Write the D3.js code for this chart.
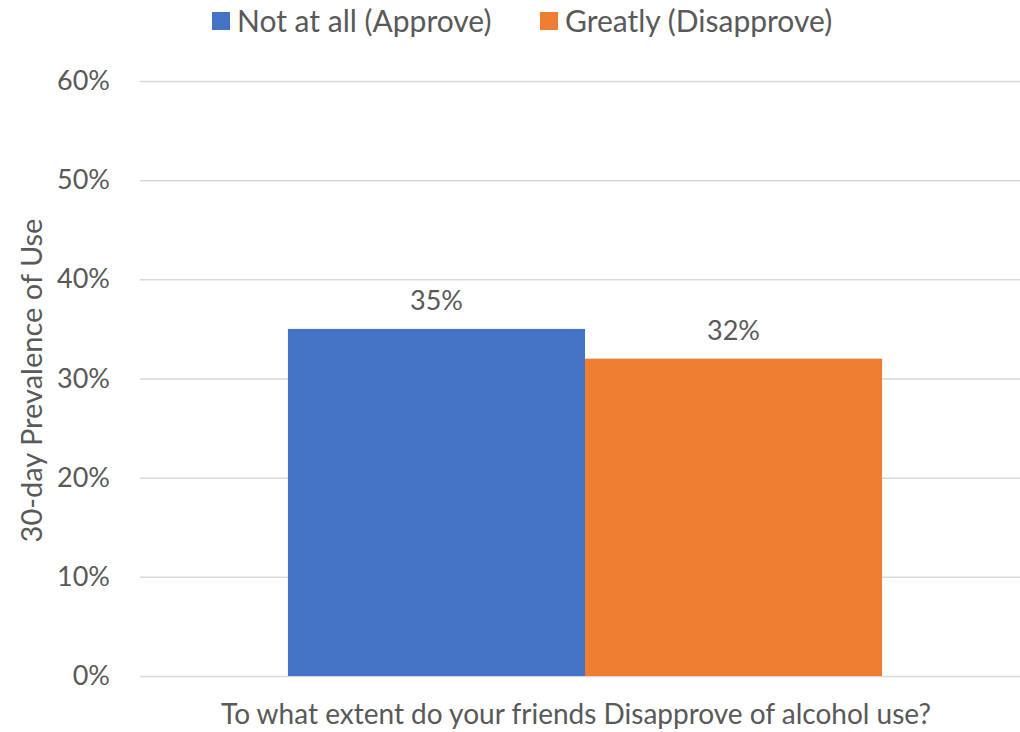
<!DOCTYPE html>
<html>
<head>
<meta charset="utf-8">
<script src="https://cdn.jsdelivr.net/npm/d3@7"></script>
<style>
  body { margin: 0; background: #fff; overflow: hidden; }
  text { font-family: Lato, "Open Sans", sans-serif; fill: #595959; }
</style>
</head>
<body>
<svg id="chart_svg"></svg>
<script>
var categories = ['To what extent do your friends Disapprove of alcohol use?'];
var series = ['Not at all (Approve)', 'Greatly (Disapprove)'];
var values = [0.35, 0.32];
var colors = ['#4472C4', '#ED7D31'];
var yTicks = [0, 0.1, 0.2, 0.3, 0.4, 0.5, 0.6];

var W = 1020, H = 732;
// plot area runs past the right edge, as in the source image
var margin = {top: 81, right: -10, bottom: 56, left: 140};
var width = W - margin.left - margin.right;
var height = H - margin.top - margin.bottom;

var svg = d3.select('#chart_svg')
  .attr('width', W)
  .attr('height', H);

var g = svg.append('g')
  .attr('transform', 'translate(' + margin.left + ',' + margin.top + ')');

var x0 = d3.scaleBand()
  .domain(categories)
  .range([0, width])
  .paddingInner(0)
  .paddingOuter(0.249);

var x1 = d3.scaleBand()
  .domain(series)
  .range([0, x0.bandwidth()]);

var y = d3.scaleLinear()
  .domain([0, 0.6])
  .range([height, 0]);

var yAxis = d3.axisLeft(y)
  .tickValues(yTicks)
  .tickSize(-width)
  .tickPadding(30)
  .tickFormat(d3.format('.0%'));

var yAxisGroup = g.append('g')
  .attr('class', 'axis y')
  .call(yAxis);

yAxisGroup.select('.domain').remove();
yAxisGroup.selectAll('.tick line')
  .attr('stroke', '#D9D9D9')
  .attr('stroke-width', 1.5);
yAxisGroup.selectAll('.tick text')
  .style('font-size', '27px')
  .style('fill', '#595959')
  .style('font-family', 'Lato, "Open Sans", sans-serif');

var groups = g.selectAll('.cat')
  .data(categories)
  .enter()
  .append('g')
  .attr('class', 'cat')
  .attr('transform', function(d) {
    return 'translate(' + x0(d) + ',0)';
  });

groups.selectAll('rect')
  .data(series)
  .enter()
  .append('rect')
  .attr('x', function(d) { return x1(d); })
  .attr('width', x1.bandwidth())
  .attr('y', function(d, i) { return y(values[i]); })
  .attr('height', function(d, i) { return height - y(values[i]); })
  .style('fill', function(d, i) { return colors[i]; });

groups.selectAll('.bar-label')
  .data(series)
  .enter()
  .append('text')
  .attr('class', 'bar-label')
  .attr('x', function(d) { return x1(d) + x1.bandwidth() / 2; })
  .attr('y', function(d, i) { return y(values[i]) - 19; })
  .style('text-anchor', 'middle')
  .style('font-size', '27px')
  .text(function(d, i) { return d3.format('.0%')(values[i]); });

// x axis title
svg.append('text')
  .attr('class', 'axis-label x')
  .attr('x', 576)
  .attr('y', 724)
  .style('text-anchor', 'middle')
  .style('font-size', '28px')
  .text(categories[0]);

// y axis title
svg.append('text')
  .attr('class', 'axis-label y')
  .attr('transform', 'translate(42,' + (margin.top + height / 2 + 2) + ') rotate(-90)')
  .style('text-anchor', 'middle')
  .style('font-size', '29px')
  .text('30-day Prevalence of Use');

// legend
var legendX = [212, 540];
var legend = svg.selectAll('.legend')
  .data(series)
  .enter()
  .append('g')
  .attr('class', 'legend')
  .attr('transform', function(d, i) { return 'translate(' + legendX[i] + ',12)'; });

legend.append('rect')
  .attr('width', 18)
  .attr('height', 18)
  .style('fill', function(d, i) { return colors[i]; });

legend.append('text')
  .attr('x', 25)
  .attr('y', 20)
  .style('font-size', '30px')
  .text(function(d) { return d; });
</script>
</body>
</html>
